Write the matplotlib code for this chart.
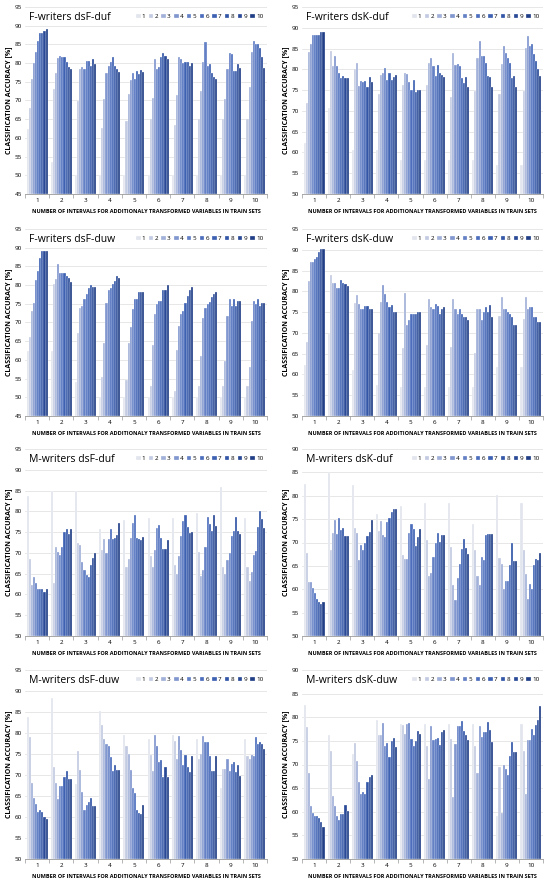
import numpy as np
import matplotlib
matplotlib.use('Agg')
import matplotlib.pyplot as plt

plt.rcParams['font.family'] = ['Open Sans', 'DejaVu Sans']

groups = [str(i) for i in range(1, 11)]
series = [str(i) for i in range(1, 11)]
colors = ['#e2e5ee', '#c3cbe2', '#a2b1d9', '#8197cf', '#6481c6', '#4d6ebd',
          '#3e61b2', '#3356a6', '#2a4a97', '#213e86']

# values[group][series]
f_dsf_duf = [
    [62.3, 68, 75.8, 80, 83, 86, 88, 88, 88.5, 89],
    [53.5, 73, 77.3, 81.3, 82, 81.5, 81.5, 80.3, 79, 78.5],
    [50, 69.8, 78.3, 79, 78.3, 80.5, 80.5, 79.3, 81, 79.8],
    [50, 62.7, 70.3, 77.3, 79.3, 80.3, 81.5, 79.3, 78.5, 77.5],
    [50, 64.5, 71.7, 75.5, 77.3, 75.7, 78, 77.2, 78.2, 77.5],
    [50, 65, 70.8, 81, 78.5, 79, 81.5, 82.8, 81.8, 81],
    [50, 63.5, 71.5, 81.5, 81, 80, 80.3, 80.3, 79.3, 80],
    [50, 65, 72.5, 80.3, 85.7, 79.3, 79.8, 77.3, 76.3, 75.8],
    [50, 65, 70.3, 78.5, 82.7, 82.3, 78, 78, 79.8, 78.8],
    [50, 65, 73.7, 83, 86, 85, 85, 84, 81.5, 78.8],
]
f_dsk_duf = [
    [62.2, 72, 84.2, 86, 88.3, 88.3, 88.3, 88.3, 89, 89],
    [70.7, 84.5, 80.7, 83.2, 80.7, 79, 78, 78.5, 78, 78],
    [60.7, 80, 81.5, 76, 77.3, 77, 77.3, 75.8, 78.2, 77],
    [60.7, 74, 78.7, 79.2, 80.3, 77.5, 79.2, 77.5, 78.2, 78.7],
    [58.3, 76.3, 79.2, 78.8, 77, 75, 77.5, 74.5, 75, 75],
    [58.3, 76.3, 81.5, 82.7, 80.7, 78.3, 81, 79.2, 78.7, 78.2],
    [58.3, 73.3, 84, 81, 81.3, 80.8, 78, 76.7, 78.2, 75.7],
    [58.3, 74.7, 82.8, 86.8, 83.2, 83.2, 81.5, 78.5, 78.2, 75.7],
    [57, 74, 81.2, 85.7, 84, 82.7, 81.5, 78, 78.5, 75.7],
    [57, 74.7, 85.2, 88, 85.7, 86, 83.8, 82, 80.2, 78.5],
]
f_dsf_duw = [
    [62.3, 66, 73, 75.2, 81.3, 83.7, 87.3, 89, 89, 89],
    [62.3, 80.3, 81.7, 85.7, 83.3, 83.3, 83.3, 82.5, 81.8, 80.8],
    [54, 67.2, 73.8, 74.5, 76.3, 77.5, 79.3, 80, 79.5, 79.5],
    [50, 55.5, 64.5, 75.2, 78.8, 79.3, 80.3, 81, 82.5, 82],
    [50, 54.5, 64.5, 68.8, 73.5, 76.3, 76.3, 78.2, 78.2, 78.2],
    [50, 53, 64, 72.2, 75, 75.7, 75.7, 78.8, 78.8, 80],
    [50, 51.8, 62.7, 69, 72.2, 73.2, 75.2, 77, 78.8, 79.5],
    [50, 53, 61, 71.3, 73.8, 75, 75.5, 76.8, 77.7, 78.2],
    [50, 53, 59.8, 71.7, 76.3, 74.5, 76.2, 74.5, 75.7, 75.7],
    [50, 53, 58, 70.3, 75.8, 75, 76.3, 74.5, 75.3, 75.3],
]
f_dsk_duw = [
    [62.2, 67.8, 82.5, 87, 87, 87.7, 88.2, 89.5, 90.2, 90.2],
    [69.8, 84, 82, 82, 80.7, 80.7, 82.7, 82, 81.7, 81.3],
    [61, 77.3, 79.2, 77, 75.8, 75.8, 76.5, 76.5, 75.8, 75.8],
    [57.5, 70, 77.5, 81.5, 79.3, 77.5, 76.2, 76.8, 75, 75],
    [57, 66.3, 79.5, 72, 73.2, 74.5, 74.5, 74.5, 75, 75],
    [57, 67.2, 78.2, 76.3, 75.8, 77, 76.5, 74.5, 75.7, 76.3],
    [57, 66.5, 78.2, 75.7, 74.5, 75.7, 74.5, 73.8, 73.8, 73.2],
    [57, 65.2, 75.7, 75.7, 73.2, 75, 76.2, 75, 76.8, 73.8],
    [61.7, 74, 78.7, 75.7, 75.7, 75, 74.5, 73.8, 72, 72],
    [61.7, 73.3, 78.7, 75.7, 76.3, 76.3, 73.8, 73.8, 72.7, 72.7],
]
m_dsf_duf = [
    [83.7, 68.5, 62.2, 64.2, 62.8, 61.3, 61.3, 61.3, 60.5, 61.2],
    [84.8, 62.8, 71.5, 70.3, 69.5, 71.5, 75, 75.7, 74.5, 75.7],
    [85, 72.3, 72, 67.7, 66, 64.7, 64.3, 67.2, 68.8, 70],
    [75.7, 70.8, 73.3, 70, 73.3, 75.8, 73.3, 73.7, 74.3, 77.3],
    [78, 66.5, 68.5, 73.5, 77.2, 79, 73.5, 73.3, 73.2, 73.8],
    [78.5, 69.2, 66.7, 70.7, 76, 76.7, 73.5, 71, 71, 73.2],
    [78.5, 67.2, 65, 69.2, 74, 77.7, 79, 76.3, 74.8, 75],
    [79.5, 70.3, 64.5, 66, 71.5, 78.7, 77, 75.2, 79, 76.5],
    [85.8, 66.7, 65, 68.3, 70, 74, 75.2, 78.7, 75.2, 74.5],
    [78.5, 66.5, 63.3, 65.5, 69.5, 70.5, 76.3, 80, 78.2, 76],
]
m_dsk_duf = [
    [82.5, 67.8, 61.5, 61.5, 60.3, 59.2, 58, 57.3, 56.8, 57.3],
    [84.8, 68.5, 72, 74.8, 71.8, 75.3, 72.7, 73, 71.3, 71.3],
    [82.3, 73.2, 72, 66.2, 69.5, 68.5, 69.8, 71.3, 72.3, 74.8],
    [76.2, 72.5, 74.7, 71.7, 71.2, 74.3, 75.3, 76.5, 77.2, 77.2],
    [77.8, 67.3, 66.5, 66.5, 72, 74, 72.8, 69.2, 71.2, 72.8],
    [78.5, 70.5, 62.8, 63.5, 67, 69.8, 72, 70.2, 71.5, 71.7],
    [78.5, 69, 61, 57.8, 62.3, 65.5, 68.7, 70.7, 68.8, 67.5],
    [74, 68.5, 62.8, 61, 66.8, 66.3, 71.5, 71.8, 71.8, 71.8],
    [80.2, 66.7, 65.3, 60, 61.8, 61.8, 65.2, 70, 66, 66],
    [78.5, 68.5, 63.3, 58, 61.2, 60, 65.2, 66.5, 66.3, 67.8],
]
m_dsf_duw = [
    [83.7, 79, 68, 64.5, 63, 61.3, 61.7, 61.2, 60, 59.5],
    [88.3, 71.8, 68, 64.2, 67.5, 67.5, 69.5, 71, 69, 69],
    [67.8, 75.7, 71.3, 66, 61.6, 62.8, 63.5, 64.5, 62.7, 62.7],
    [85.3, 82, 78.5, 77.5, 77, 74.3, 71, 72.3, 71.2, 71.2],
    [79.5, 77, 75, 71.3, 67, 65.7, 61.7, 61, 60.7, 62.8],
    [78.5, 74.7, 71, 79.5, 77, 73.2, 73.5, 69.5, 72, 69.5],
    [79.5, 78.2, 73.8, 79.2, 76, 72.3, 74.8, 72, 70.8, 74.5],
    [78.5, 73.8, 75, 79.2, 77.8, 77.8, 74.5, 71, 71, 74.5],
    [66.8, 71.5, 71.5, 73.8, 71, 72.7, 73, 70.7, 72.3, 69.7],
    [78.5, 74.5, 73.7, 74.8, 74.5, 79, 77.5, 77.8, 77.5, 76.3],
]
m_dsk_duw = [
    [82.5, 78, 68.2, 61.2, 59.8, 59.2, 59.2, 58.7, 57.8, 56.8],
    [76.3, 72.8, 63.3, 61.3, 59, 58.2, 59.5, 59.5, 61.5, 60.2],
    [72.2, 74.5, 70.8, 66.2, 63.7, 64.2, 63.7, 66.2, 67.3, 67.8],
    [79.5, 76.3, 76.2, 78.7, 74, 74.5, 71.5, 75, 75.7, 73.8],
    [78.5, 78.3, 76.5, 78.5, 78.7, 75.3, 74, 75, 77, 76.5],
    [78.5, 74, 67, 78.2, 75.2, 75.3, 75.7, 74.2, 76.8, 77.2],
    [78.5, 75.3, 63.2, 74.3, 78.2, 78.2, 79.3, 77, 76.2, 75.2],
    [78.5, 74, 68.2, 78.2, 75.8, 76.8, 76.8, 79, 77.3, 74.8],
    [59, 69.5, 59.8, 69.8, 69, 67.8, 71.8, 74.7, 72.7, 72.7],
    [78.5, 72.8, 63.7, 75.2, 75.2, 77.5, 76.2, 78.3, 79.5, 82.3],
]

# (title, data, ymin, ymax, pixel box: left, top, right, bottom)
panels = [
    ('F-writers dsF-duf', f_dsf_duf, 45, 95, (25, 7, 267, 194)),
    ('F-writers dsK-duf', f_dsk_duf, 50, 95, (302, 7, 543, 194)),
    ('F-writers dsF-duw', f_dsf_duw, 45, 95, (25, 229, 267, 416)),
    ('F-writers dsK-duw', f_dsk_duw, 50, 95, (302, 229, 543, 416)),
    ('M-writers dsF-duf', m_dsf_duf, 50, 95, (25, 449, 267, 636)),
    ('M-writers dsK-duf', m_dsk_duf, 50, 90, (302, 449, 543, 636)),
    ('M-writers dsF-duw', m_dsf_duw, 50, 95, (25, 670, 267, 859)),
    ('M-writers dsK-duw', m_dsk_duw, 50, 90, (302, 670, 543, 859)),
]

W, H = 550, 884
fig = plt.figure(figsize=(W / 100, H / 100), dpi=100)

bw = 0.087
x = np.arange(len(groups))
for title, data, ymin, ymax, (l, t, r, b) in panels:
    ax = fig.add_axes([l / W, 1 - b / H, (r - l) / W, (b - t) / H])
    vals = np.array(data)
    for s in range(len(series)):
        ax.bar(x + (s - 4.5) * bw, vals[:, s] - ymin, bw, bottom=ymin,
               color=colors[s], edgecolor='white', linewidth=0.2,
               label=series[s], zorder=3)
    ax.set_ylim(ymin, ymax)
    ax.set_xlim(-0.5, len(groups) - 0.5)
    ax.set_yticks(np.arange(ymin, ymax + 0.1, 5))
    ax.set_xticks(x)
    ax.set_xticklabels(groups)
    ax.set_xticks(np.arange(-0.5, len(groups), 1), minor=True)
    ax.tick_params(axis='x', which='major', length=0, labelsize=4.5, pad=3)
    ax.tick_params(axis='x', which='minor', length=3, width=0.5, color='#999999')
    ax.tick_params(axis='y', length=0, labelsize=4.5, pad=2)
    ax.grid(axis='y', color='#dddddd', linewidth=0.5, zorder=0)
    for sp in ['top', 'right', 'left']:
        ax.spines[sp].set_visible(False)
    ax.spines['bottom'].set_color('#999999')
    ax.spines['bottom'].set_linewidth(0.6)
    ax.set_ylabel('CLASSIFICATION ACCURACY [%]', fontsize=5, fontweight='bold',
                  labelpad=2)
    ax.set_xlabel('NUMBER OF INTERVALS FOR ADDITIONALY TRANSFORMED VARIABLES IN TRAIN SETS',
                  fontsize=4, fontweight='bold', labelpad=4)
    ax.text(0.015, 0.975, title, transform=ax.transAxes, fontsize=7.5,
            va='top', ha='left', zorder=5)
    ax.legend(ncol=10, loc='upper right', bbox_to_anchor=(1.0, 0.985),
              fontsize=4.5, frameon=False, handlelength=0.7, handleheight=0.7,
              handletextpad=0.2, columnspacing=0.55, borderaxespad=0.2)

fig.savefig('out.png', dpi=100)
